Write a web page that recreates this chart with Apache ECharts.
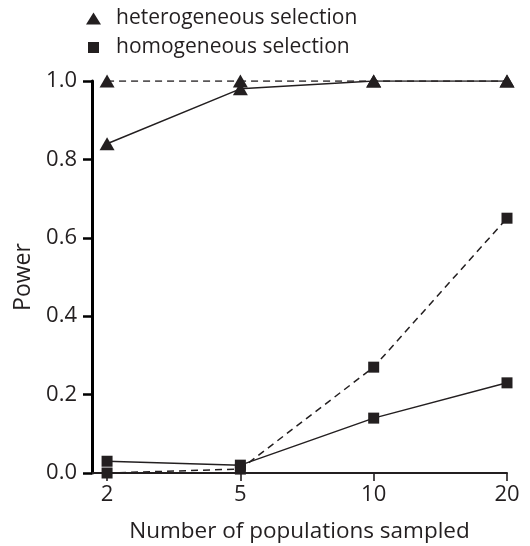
<!DOCTYPE html>
<html>
<head>
<meta charset="utf-8">
<script src="https://cdn.jsdelivr.net/npm/echarts@6/dist/echarts.min.js"></script>
<style>
  html, body { margin: 0; padding: 0; background: #ffffff; }
  #chart { width: 530px; height: 546px; }
</style>
</head>
<body>
<div id="chart"></div>
<script>
// Number of populations sampled (equally spaced categories)
const categories = ['2', '5', '10', '20'];
const yTicks = [0.0, 0.2, 0.4, 0.6, 0.8, 1.0];

// Power, heterogeneous selection
const heteroSolid = [0.84, 0.98, 1.0, 1.0];
const heteroDashed = [1.0, 1.0, 1.0, 1.0];
// Power, homogeneous selection
const homoSolid = [0.03, 0.02, 0.14, 0.23];
const homoDashed = [0.0, 0.01, 0.27, 0.65];

const INK = '#231f20';
const FONT = "'Open Sans'";
// gap between the y axis and the first category, in category steps
const PAD = 0.113;

function pts(values) {
  return values.map((v, i) => [i + PAD, v]);
}

function lineSeries(name, values, symbol, symbolSize, dashed, z) {
  return {
    name: name,
    type: 'line',
    data: pts(values),
    symbol: symbol,
    symbolSize: symbolSize,
    showSymbol: true,
    z: z,
    itemStyle: { color: INK, borderWidth: 0 },
    lineStyle: { color: INK, width: 1.5, type: dashed ? [7, 5] : 'solid' },
    emphasis: { disabled: true },
    animation: false
  };
}

const tickPos = categories.map((c, i) => i + PAD);

const chart = echarts.init(document.getElementById('chart'), null, { renderer: 'canvas' });
chart.setOption({
  backgroundColor: '#ffffff',
  animation: false,
  textStyle: { fontFamily: FONT, color: INK },
  legend: [
    {
      data: ['heterogeneous selection'],
      orient: 'vertical',
      left: 81, top: 3,
      icon: 'triangle',
      itemWidth: 15, itemHeight: 12,
      selectedMode: false,
      textStyle: { fontFamily: FONT, fontSize: 21, color: INK, padding: [0, 0, 0, 10] }
    },
    {
      data: ['homogeneous selection'],
      orient: 'vertical',
      left: 83, top: 32,
      icon: 'rect',
      itemWidth: 11, itemHeight: 11,
      selectedMode: false,
      textStyle: { fontFamily: FONT, fontSize: 21, color: INK, padding: [0, 0, 0, 12] }
    }
  ],
  grid: { left: 92, right: 23, top: 81, bottom: 73, containLabel: false, outerBoundsMode: 'none' },
  xAxis: {
    type: 'value',
    min: 0,
    max: categories.length - 1 + PAD,
    name: 'Number of populations sampled',
    nameLocation: 'middle',
    nameGap: 47,
    nameTextStyle: { fontFamily: FONT, fontSize: 22.5, color: INK },
    axisLine: { show: true, lineStyle: { color: INK, width: 2 } },
    axisTick: { show: true, length: 8, lineStyle: { color: INK, width: 1.6 }, customValues: tickPos },
    axisLabel: {
      customValues: tickPos,
      margin: 11,
      fontFamily: FONT, fontSize: 22, color: INK,
      formatter: v => categories[Math.round(v - PAD)]
    },
    splitLine: { show: false }
  },
  yAxis: {
    type: 'value',
    min: 0, max: 1, interval: 0.2,
    name: 'Power',
    nameLocation: 'middle',
    nameGap: 49,
    nameTextStyle: { fontFamily: FONT, fontSize: 23, color: INK },
    axisLine: { show: true, lineStyle: { color: '#000000', width: 3 } },
    axisTick: { show: true, length: 9, lineStyle: { color: '#000000', width: 2.5 } },
    axisLabel: {
      margin: 15,
      fontFamily: FONT, fontSize: 22, color: INK,
      formatter: v => v.toFixed(1)
    },
    splitLine: { show: false }
  },
  series: [
    lineSeries('homogeneous selection', homoDashed, 'rect', 11, true, 2),
    lineSeries('homogeneous selection', homoSolid, 'rect', 11, false, 3),
    lineSeries('heterogeneous selection', heteroDashed, 'triangle', [15, 13], true, 4),
    lineSeries('heterogeneous selection', heteroSolid, 'triangle', [15, 13], false, 5)
  ]
});
</script>
</body>
</html>
